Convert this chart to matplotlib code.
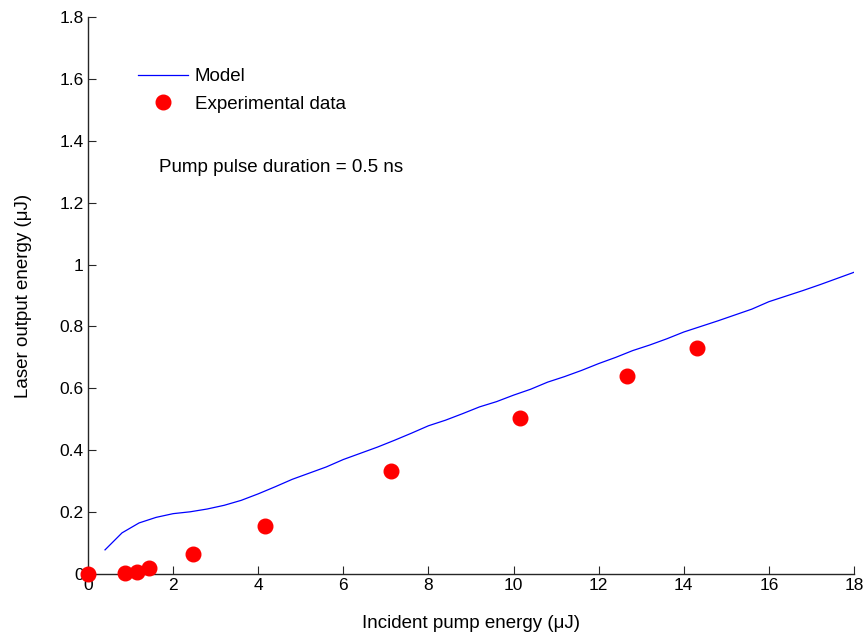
import matplotlib
matplotlib.use("Agg")
import matplotlib.pyplot as plt

# model curve
model_x = [0.4, 0.8, 1.2, 1.6, 2.0, 2.4, 2.8, 3.2, 3.6, 4.0, 4.4, 4.8, 5.2, 5.6,
           6.0, 6.4, 6.8, 7.2, 7.6, 8.0, 8.4, 8.8, 9.2, 9.6, 10.0, 10.4, 10.8,
           11.2, 11.6, 12.0, 12.4, 12.8, 13.2, 13.6, 14.0, 14.4, 14.8, 15.2,
           15.6, 16.0, 16.4, 16.8, 17.2, 17.6, 18.0]
model_y = [0.078, 0.133, 0.165, 0.183, 0.195, 0.201, 0.210, 0.222, 0.238, 0.259,
           0.282, 0.306, 0.326, 0.346, 0.370, 0.390, 0.410, 0.432, 0.455, 0.479,
           0.497, 0.518, 0.540, 0.557, 0.578, 0.597, 0.620, 0.638, 0.658, 0.680,
           0.700, 0.722, 0.740, 0.760, 0.782, 0.800, 0.818, 0.837, 0.856, 0.880,
           0.898, 0.916, 0.935, 0.955, 0.975]

# experimental points
exp_x = [0.0, 0.87, 1.15, 1.43, 2.47, 4.16, 7.12, 10.15, 12.66, 14.31]
exp_y = [0.0, 0.003, 0.007, 0.02, 0.065, 0.155, 0.333, 0.504, 0.64, 0.73]

x_ticks = [0, 2, 4, 6, 8, 10, 12, 14, 16, 18]
y_ticks = [0, 0.2, 0.4, 0.6, 0.8, 1, 1.2, 1.4, 1.6, 1.8]
y_tick_labels = ["0", "0.2", "0.4", "0.6", "0.8", "1", "1.2", "1.4", "1.6", "1.8"]

plt.rcParams["font.family"] = ["Liberation Sans", "DejaVu Sans"]

fig = plt.figure(figsize=(8.66, 6.33), dpi=100)
ax = fig.add_axes([88 / 866, 59 / 633, 766 / 866, 557 / 633])

ax.plot(model_x, model_y, color="#0000ff", lw=0.9, label="Model")
ax.plot(exp_x, exp_y, "o", color="#ff0000", ms=10.5, mec="#ff0000",
        clip_on=False, zorder=5, label="Experimental data")

ax.set_xlim(0, 18)
ax.set_ylim(0, 1.8)
ax.set_xticks(x_ticks)
ax.set_xticklabels([str(t) for t in x_ticks])
ax.set_yticks(y_ticks)
ax.set_yticklabels(y_tick_labels)

for s in ["top", "right"]:
    ax.spines[s].set_visible(False)
for s in ["left", "bottom"]:
    ax.spines[s].set_color("#262626")
    ax.spines[s].set_linewidth(1.0)
ax.tick_params(direction="in", length=5.5, width=0.8, color="#262626",
               labelsize=12.5, pad=3)

ax.set_xlabel("Incident pump energy (\u03bcJ)", fontsize=13.5, labelpad=16)
ax.set_ylabel("Laser output energy (\u03bcJ)", fontsize=13.5, labelpad=20)

ax.legend(loc="upper left", bbox_to_anchor=(138 / 866, 1 - 68 / 633),
          bbox_transform=fig.transFigure, frameon=False, borderpad=0,
          borderaxespad=0, handlelength=2.67, handletextpad=0.37,
          labelspacing=0.57, fontsize=13.5)

ax.text(1.67, 1.313, "Pump pulse duration = 0.5 ns", fontsize=13.5, va="center")

fig.savefig("out.png", dpi=100)
